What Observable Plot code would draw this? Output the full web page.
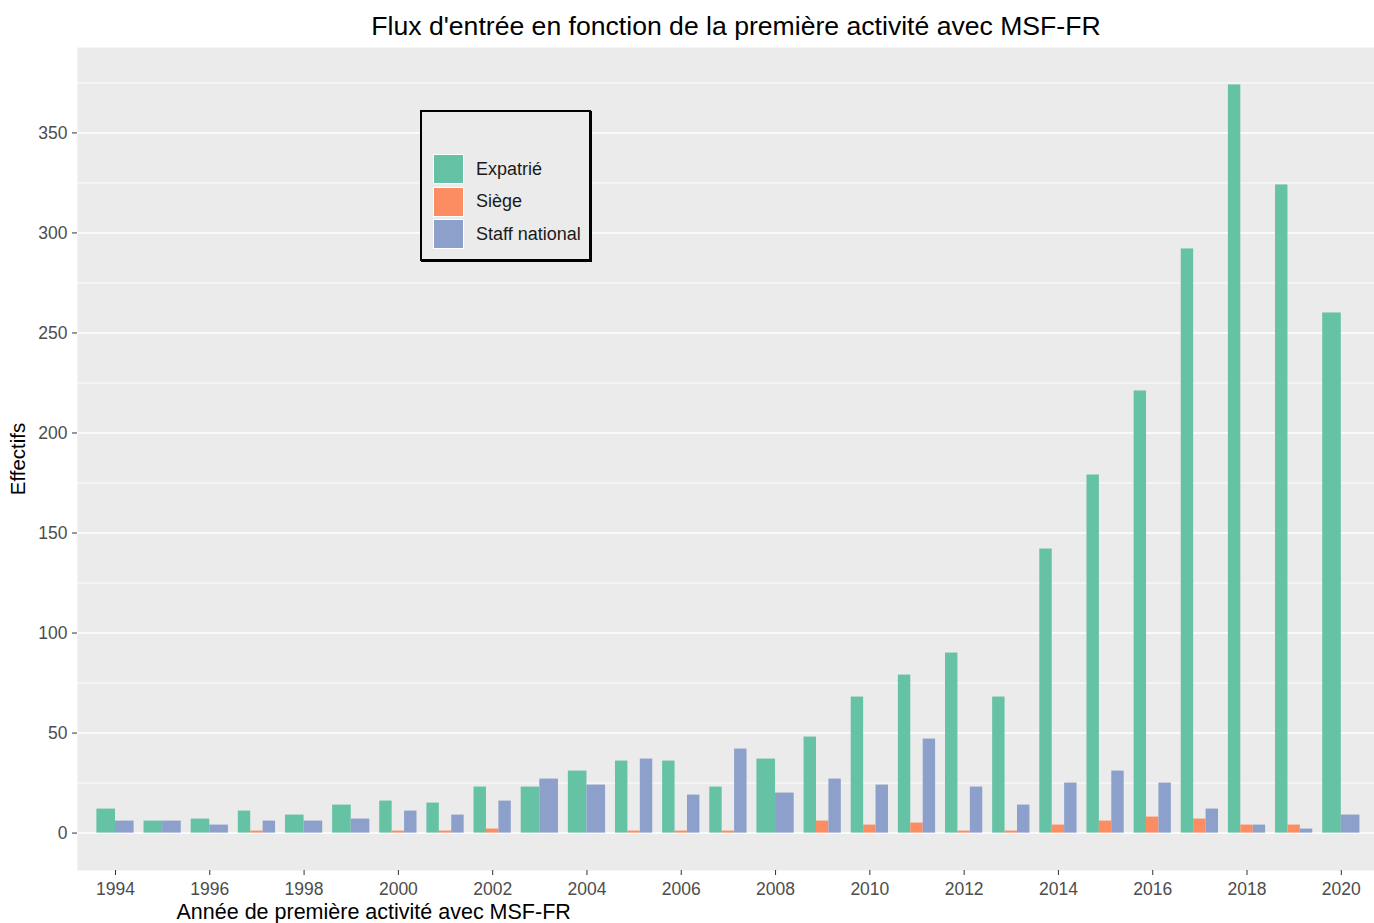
<!DOCTYPE html>
<html>
<head>
<meta charset="utf-8">
<script src="https://cdn.jsdelivr.net/npm/d3@7"></script>
<script src="https://cdn.jsdelivr.net/npm/@observablehq/plot@0.6"></script>
<style>
  html, body { margin: 0; padding: 0; background: #ffffff; }
  #wrap { position: relative; width: 1374px; height: 923px; font-family: "Liberation Sans", Arial, sans-serif; }
  #legend { position: absolute; left: 420px; top: 110px; width: 167px; height: 147px;
            border: 2px solid #000; background: #EBEBEB; box-shadow: 1px 1px 0 #000; }
  .lrow { position: absolute; left: 11px; height: 30px; display: flex; align-items: center; }
  .lkey { width: 31px; height: 30px; box-sizing: border-box; border: 1px solid #ffffff; }
  .llab { margin-left: 12px; font-size: 18px; color: #1a1a1a; white-space: nowrap; }
</style>
</head>
<body>
<div id="wrap"></div>
<script>
// ---- data ----
const years = [1994,1995,1996,1997,1998,1999,2000,2001,2002,2003,2004,2005,2006,2007,2008,2009,2010,2011,2012,2013,2014,2015,2016,2017,2018,2019,2020];
const expatrie = [12,6,7,11,9,14,16,15,23,23,31,36,36,23,37,48,68,79,90,68,142,179,221,292,374,324,260];
const siege = [null,null,null,1,null,null,1,1,2,null,null,1,1,1,null,6,4,5,1,1,4,6,8,7,4,4,null];
const staffNational = [6,6,4,6,6,7,11,9,16,27,24,37,19,42,20,27,24,47,23,14,25,31,25,12,4,2,9];
const categories = ["Expatrié", "Siège", "Staff national"];
const colors = ["#66C2A5", "#FC8D62", "#8DA0CB"];
const yTicks = [0,50,100,150,200,250,300,350];
const yMinorTicks = [25,75,125,175,225,275,325,375];
const xTicks = [1994,1996,1998,2000,2002,2004,2006,2008,2010,2012,2014,2016,2018,2020];
const title = "Flux d'entrée en fonction de la première activité avec MSF-FR";
const xTitle = "Année de première activité avec MSF-FR";
const yTitle = "Effectifs";

// ---- dodge (ggplot-like: present bars share the full width) ----
const series = [expatrie, siege, staffNational];
const dodgeWidth = 0.79;
const rows = [];
years.forEach((yr, j) => {
  const present = categories.map((c, k) => ({cat: c, value: series[k][j]})).filter(d => d.value != null);
  const n = present.length;
  present.forEach((d, i) => {
    rows.push({year: yr, cat: d.cat, value: d.value,
      x1: yr - dodgeWidth / 2 + i * dodgeWidth / n,
      x2: yr - dodgeWidth / 2 + (i + 1) * dodgeWidth / n});
  });
});

const plot = Plot.plot({
  width: 1374,
  height: 923,
  marginLeft: 77,
  marginRight: 0,
  marginTop: 47,
  marginBottom: 53,
  style: {fontFamily: "'Liberation Sans', Arial, sans-serif", background: "transparent", overflow: "visible"},
  x: {domain: [1993.194, 2020.704], axis: null},
  y: {domain: [-18.7, 392.7], axis: null},
  color: {domain: categories, range: colors},
  marks: [
    Plot.frame({fill: "#EBEBEB", stroke: null}),
    Plot.gridY(yMinorTicks, {stroke: "#ffffff", strokeOpacity: 1, strokeWidth: 0.9}),
    Plot.gridY(yTicks, {stroke: "#ffffff", strokeOpacity: 1, strokeWidth: 1.5}),
    Plot.rect(rows, {x1: "x1", x2: "x2", y1: () => 0, y2: "value", fill: "cat"}),
    Plot.axisY(yTicks, {anchor: "left", tickSize: 5, tickPadding: 5, fontSize: 17.5,
      stroke: "#333333", fill: "#4D4D4D", label: null, tickFormat: d => String(d)}),
    Plot.axisX(xTicks, {anchor: "bottom", tickSize: 5, tickPadding: 7, fontSize: 17.5,
      stroke: "#333333", fill: "#4D4D4D", label: null, tickFormat: d => String(d)}),
    Plot.text([title], {text: d => d, frameAnchor: "top", lineAnchor: "middle", dx: 10, dy: -21, fontSize: 26.6, fill: "#000"}),
    Plot.text([xTitle], {text: d => d, frameAnchor: "bottom-left", textAnchor: "start", lineAnchor: "middle", dx: 99, dy: 42, fontSize: 21.5, fill: "#000"}),
    Plot.text([yTitle], {text: d => d, frameAnchor: "left", textAnchor: "middle", lineAnchor: "middle", rotate: -90, dx: -59, dy: 0, fontSize: 20.5, fill: "#000"})
  ]
});

const wrap = document.getElementById("wrap");
wrap.appendChild(plot);

// ---- legend (inside the panel, ggplot style) ----
const color = plot.scale("color");
const legend = document.createElement("div");
legend.id = "legend";
categories.forEach((c, i) => {
  const row = document.createElement("div");
  row.className = "lrow";
  row.style.top = (42 + i * 32.5) + "px";
  const key = document.createElement("div");
  key.className = "lkey";
  key.style.background = color.apply(c);
  const lab = document.createElement("span");
  lab.className = "llab";
  lab.textContent = c;
  row.appendChild(key);
  row.appendChild(lab);
  legend.appendChild(row);
});
wrap.appendChild(legend);
</script>
</body>
</html>
